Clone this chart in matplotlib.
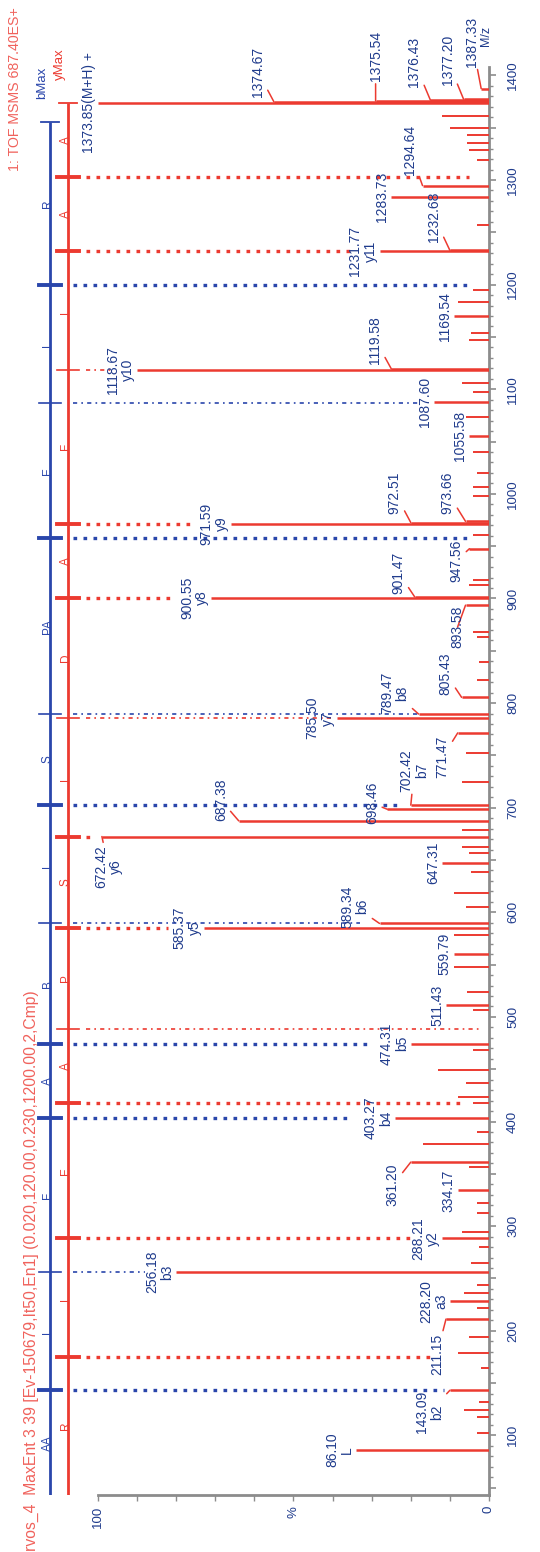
import matplotlib
matplotlib.use("Agg")
import matplotlib.pyplot as plt
from matplotlib.ticker import FixedLocator, MultipleLocator

# ---------------------------------------------------------------
# data read off the (rotated) MaxEnt3 MS/MS spectrum
# ---------------------------------------------------------------
# labelled peaks: m/z, relative intensity (%), ion name
lab_mz = [86.10, 143.09, 211.15, 228.20, 256.18, 288.21, 334.17, 361.20, 403.27,
          474.31, 511.43, 559.79, 585.37, 589.34, 647.31, 672.42, 687.38, 698.46,
          702.42, 771.47, 785.50, 789.47, 805.43, 893.58, 900.55, 901.47, 947.56,
          971.59, 972.51, 973.66, 1055.58, 1087.60, 1118.67, 1119.58, 1169.54,
          1231.77, 1232.68, 1283.73, 1294.64, 1373.85, 1374.67, 1375.54, 1376.43,
          1377.20, 1387.33]
lab_int = [34, 10, 11, 10, 80, 12, 8, 20, 24,
           20, 11, 9, 73, 28, 12, 99, 64, 26,
           20, 8, 39, 18, 7, 6, 71, 19, 5,
           66, 20, 6, 5, 14, 90, 25, 9,
           28, 10, 25, 17, 100, 55, 29, 15,
           6.5, 2]
lab_ion = ['L', 'b2', '', 'a3', 'b3', 'y2', '', '', 'b4',
           'b5', '', '', 'y5', 'b6', '', 'y6', '', '',
           'b7', '', 'y7', 'b8', '', '', 'y8', '', '',
           'y9', '', '', '', '', 'y10', '', '',
           'y11', '', '', '', '(M+H) +', '', '', '',
           '', '']
# where the label sits relative to the peak tip (pixels), leader line if moved
lab_shift = [(0, 0), (-6, -22), (-2, -35), (0, 0), (0, 0), (0, 0), (0, 0), (-11, -23), (0, 0),
             (0, 0), (0, 0), (0, 0), (0, 0), (-10, 17), (0, 0), (21, -30), (-11, 21), (-8, 6),
             (18, 35), (-8, -24), (0, 0), (-9, 21), (-9, 24), (-1, -22), (0, 0), (-9, 24), (-6, -12),
             (0, 0), (-9, 30), (-11, 29), (0, 0), (0, 0), (0, 0), (-9, 29), (0, 0),
             (0, 0), (-9, 34), (0, 0), (-6, 36), (0, 0), (-9, 30), (7, 45), (-9, 38),
             (-9, 39), (-2, 47)]

# unlabelled peaks
minor_mz = [102.2, 117.5, 124.2, 132.0, 164.4, 178.8, 194.0, 221.8, 236.1, 243.7,
            264.8, 280.1, 294.4, 312.6, 322.2, 356.6, 378.6, 390.0, 417.8, 423.5,
            436.9, 449.3, 468.4, 506.7, 523.9, 547.8, 578.4, 605.2, 618.6, 638.6,
            656.8, 662.5, 678.8, 724.7, 752.4, 822.2, 839.4, 863.3, 868.1, 913.0,
            917.8, 960.8, 998.1, 1006.7, 1020.1, 1040.2, 1073.7, 1097.6, 1106.2, 1147.3,
            1154.0, 1183.6, 1195.1, 1257.2, 1319.4, 1329.0, 1335.7, 1343.3, 1350.0, 1361.5]
minor_int = [3, 3, 6.5, 2.5, 2, 8, 5, 3, 6.5, 3,
             4.5, 2.5, 7, 3, 3, 5, 17, 3, 4, 8,
             6, 13, 4, 4, 5.5, 9, 9, 6, 9, 4.5,
             5, 7, 7, 7, 6, 3, 2.5, 3, 4, 5,
             4, 4, 4, 4, 3, 4, 6, 4, 7, 5,
             4.5, 8, 4, 3, 3, 5, 5.5, 5.5, 10, 12]

# sequence ladders
b_mz = [143.09, 256.18, 403.27, 474.31, 589.34, 702.42, 789.47, 957.56, 1086.60, 1199.68]
b_bold = [1, 0, 1, 1, 0, 1, 0, 1, 0, 1]
b_reach = [11.5, 88, 35, 30, 33, 22, 18, 5, 18, 5]   # where the dotted line stops (%)
b_res = ['AA', 'L', 'F', 'A', 'B', 'L', 'S', 'PA', 'E', 'L', 'R']
b_max = 1355.84

y_mz = [175.12, 288.20, 417.25, 488.28, 585.34, 672.37, 785.45, 900.48, 971.52,
        1118.59, 1231.67, 1302.71]
y_bold = [1, 1, 1, 0, 1, 1, 0, 1, 1, 0, 1, 1]
y_reach = [14, 20, 7, 2, 82, 101, 40, 81, 75, 96, 35, 5]
y_res = ['R', 'L', 'E', 'A', 'P', 'S', 'L', 'D', 'A', 'F', 'L', 'A', 'A']
y_max = 1373.85

mz_lo, mz_hi = 43, 1408

# ---------------------------------------------------------------
W, H, DPI = 540, 1552, 100
red = '#ec3a30'
salmon = '#f0625c'
navy = '#1f3b8c'
blue = '#2a46ab'
grey = '#8c8c8c'
plt.rcParams['font.family'] = ['Liberation Sans', 'DejaVu Sans']

fig = plt.figure(figsize=(W / DPI, H / DPI), dpi=DPI)
# intensity runs right->left, m/z bottom->top (page printed sideways)
ax = fig.add_axes([0, 57 / H, 489 / W, 1428 / H])
ax.set_xlim(125.06, 0)
ax.set_ylim(mz_lo, mz_hi)

# peaks
ax.hlines(minor_mz, 0, minor_int, color=red, lw=1.4, zorder=3)
ax.hlines(lab_mz, 0, lab_int, color=red, lw=1.8, zorder=3)

for m, v, ion, (dx, dy) in zip(lab_mz, lab_int, lab_ion, lab_shift):
    s = '%.2f' % m
    if ion.startswith('('):
        s = s + ion
    elif ion:
        s = s + '\n' + ion
    moved = (dx, dy) != (0, 0)
    ax.annotate(s, xy=(v, m), xytext=(dx if moved else -2, dy),
                textcoords='offset pixels', rotation=90, ha='right', va='center',
                multialignment='center', fontsize=10, color=navy, linespacing=1.1,
                zorder=5,
                arrowprops=dict(arrowstyle='-', color=red, lw=1.1, shrinkA=0, shrinkB=0)
                if moved else None)

# ladders
bx, yx = 112.3, 107.7          # x position of the two ladder lines (in % units)
b_start, y_start = 106.4, 103.1


def draw_ladder(x0, x_start, ions, bold, reach, res, top, col, name):
    ax.plot([x0, x0], [mz_lo, top], color=col, lw=2.0, solid_capstyle='butt', zorder=4)
    ax.plot([x0 + 2.3, x0 - 2.3], [top, top], color=col, lw=1.3, zorder=4)
    for m, b, r in zip(ions, bold, reach):
        lw = 2.8 if b else 1.2
        ax.plot([x0 + 2.8, x0 - 2.8], [m, m], color=col, lw=lw, zorder=4)
        if b:
            ax.plot([x_start, r], [m, m], color=col, lw=2.4,
                    ls=(0, (1.1, 1.9)), zorder=2)
        else:
            ax.plot([x_start, r], [m, m], color=col, lw=1.2,
                    ls=(0, (2.5, 2.5, 1, 2.5)), zorder=2)
    edges = [mz_lo] + list(ions) + [top]
    for lo, hi, r in zip(edges[:-1], edges[1:], res):
        ax.text(x0 + 0.6, (lo + hi) / 2, r, rotation=90, ha='center', va='center',
                fontsize=8.5, color=col, zorder=5)
    ax.text(x0 + 2.0, top + 22, name, rotation=90, ha='center', va='bottom',
            fontsize=9.5, color=col)


draw_ladder(bx, b_start, b_mz, b_bold, b_reach, b_res, b_max, blue, 'bMax')
draw_ladder(yx, y_start, y_mz, y_bold, y_reach, y_res, y_max, red, 'yMax')

# axes
for side in ['top', 'left']:
    ax.spines[side].set_visible(False)
ax.spines['right'].set_color(grey)
ax.spines['right'].set_linewidth(2)
ax.spines['bottom'].set_color(grey)
ax.spines['bottom'].set_linewidth(2)
ax.spines['bottom'].set_bounds(0, 100)

ax.yaxis.tick_right()
ax.yaxis.set_major_locator(FixedLocator(list(range(50, 1401, 50))))
ax.set_yticklabels([str(v) if v % 100 == 0 else '' for v in range(50, 1401, 50)],
                   rotation=90, va='center', ha='left', color=navy, fontsize=9.5)
ax.yaxis.set_minor_locator(MultipleLocator(10))
ax.tick_params(axis='y', which='major', direction='out', length=5, width=1.2,
               color=grey, pad=8)
ax.tick_params(axis='y', which='minor', direction='out', length=3, width=1,
               color=grey)

ax.set_xticks(list(range(0, 101, 10)))
ax.set_xticklabels(['0', '', '', '', '', '%', '', '', '', '', '100'],
                   rotation=90, color=navy, fontsize=9.5)
ax.tick_params(axis='x', direction='out', length=4, width=1, color=grey, pad=4)

fig.text(486 / W, 1 - 36 / H, 'M/z', rotation=90, ha='center', va='center',
         fontsize=9, color=navy)
fig.text(15 / W, 1 - 7 / H, '1: TOF MSMS 687.40ES+', rotation=90, ha='center',
         va='top', fontsize=10.2, color=salmon)
fig.text(31 / W, 1 - 1551 / H,
         'rvos_4  MaxEnt 3 39 [Ev-150679,It50,En1] (0.020,120.00,0.230,1200.00,2,Cmp)',
         rotation=90, ha='center', va='bottom', fontsize=11.3, color=salmon)

fig.savefig('out.png', dpi=DPI)
